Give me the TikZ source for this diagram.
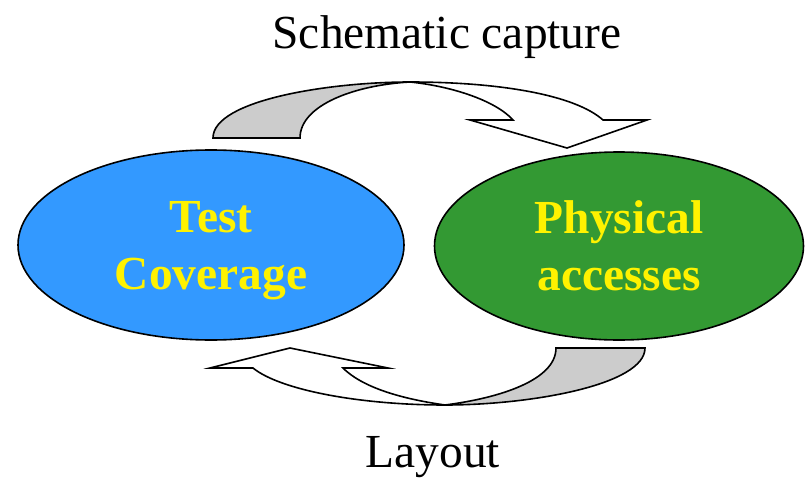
\documentclass[tikz,border=0pt]{standalone}
\usepackage{fontspec}
\setmainfont{Liberation Serif}
\usetikzlibrary{positioning, shapes.geometric}
\definecolor{testblue}{RGB}{51,153,255}
\definecolor{physgreen}{RGB}{51,153,51}
\definecolor{flowgrey}{RGB}{204,204,204}

\begin{document}
\begin{tikzpicture}[x=0.5pt, y=-0.5pt,
  phase/.style={ellipse, draw=black, line width=0.8pt, inner sep=0pt, align=center, text=yellow, font=\fontsize{23.7}{28.5}\selectfont\bfseries},
  caption/.style={anchor=base, inner sep=0pt, font=\fontsize{23.7}{28.5}\selectfont},
  band/.style={draw=black, line width=0.8pt, line join=miter}
]
\useasboundingbox (0,0) rectangle (809,482);

% the two phases
\node[phase, fill=testblue, minimum width=193pt, minimum height=95pt] (TC) at (211,245) {Test\\\smash{Coverage}};
\node[phase, fill=physgreen, minimum width=184.5pt, minimum height=94pt] (PA) at (619,246) {Physical\\\smash{accesses}};

% labels above and below
\node[caption] (SC) at (447,48) {Schematic capture};
\node[caption] (LY) at (433,467) {Layout};

% upper arrow, from TC over to PA
\draw[band, fill=flowgrey] (213,138) .. controls (213,100) and (330,82) .. (410,82)
  .. controls (355,85) and (300,105) .. (300,138) -- cycle;
\draw[band, fill=white] (410,82) .. controls (500,82) and (575,95) .. (603,120)
  -- (647,120) -- (567,148) -- (470,120) -- (513,120)
  .. controls (495,100) and (450,86) .. (410,82) -- cycle;

% lower arrow, from PA back to TC
\draw[band, fill=flowgrey] (645,348) .. controls (645,385) and (530,405) .. (445,405)
  .. controls (500,398) and (556,380) .. (556,348) -- cycle;
\draw[band, fill=white] (445,405) .. controls (360,405) and (280,390) .. (253,368)
  -- (210,368) -- (290,348) -- (388,368) -- (343,368)
  .. controls (365,390) and (410,400) .. (445,405) -- cycle;

\end{tikzpicture}
\end{document}
